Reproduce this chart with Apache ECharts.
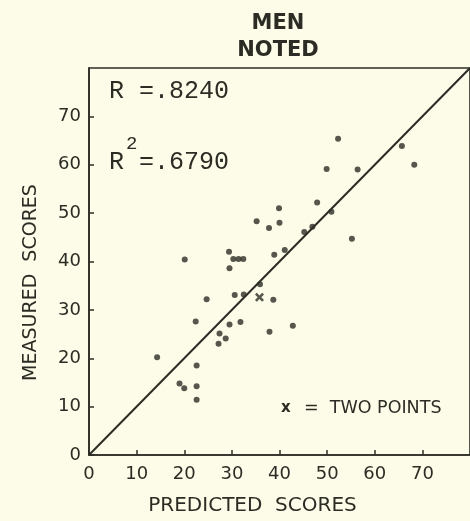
<!DOCTYPE html>
<html>
<head>
<meta charset="utf-8">
<script src="https://cdn.jsdelivr.net/npm/echarts@6/dist/echarts.min.js"></script>
<style>
html,body{margin:0;padding:0;background:#fcfce9;}
#c{width:470px;height:521px;}
</style>
</head>
<body>
<div id="c"></div>
<script>
// Data
const predicted = [14.3,20.1,19.0,20.0,22.4,22.6,22.6,22.6,24.7,27.2,27.4,28.7,29.5,29.4,29.5,30.3,31.4,32.4,30.6,32.5,31.8,35.9,35.2,38.7,37.9,37.8,40.0,39.9,38.9,41.1,42.8,45.2,46.9,47.9,50.9,55.2,49.9,52.3,56.4,65.7,68.3];
const measured  = [20.2,40.4,14.8,13.8,27.6,18.5,14.2,11.4,32.2,23.0,25.1,24.1,27.0,42.0,38.6,40.5,40.5,40.5,33.1,33.2,27.5,35.3,48.3,32.1,25.5,46.9,48.0,51.0,41.4,42.4,26.7,46.1,47.2,52.2,50.3,44.7,59.1,65.4,59.0,63.9,60.0];
const doubledPredicted = [35.8];
const doubledMeasured  = [32.6];
const lineX = [0, 80];
const lineY = [0, 80];
const axisMin = 0, axisMax = 80, axisStep = 10;
const titleLines = ['MEN', 'NOTED'];
const rText = 'R =.8240';
const r2Parts = ['R', '2', '=.6790'];
const noteMark = 'x';
const noteText = '=  TWO POINTS';

const ink = '#2d2c24';
const chart = echarts.init(document.getElementById('c'));
const pts = predicted.map((x, i) => [x, measured[i]]);
const dbl = doubledPredicted.map((x, i) => [x, doubledMeasured[i]]);
const linePts = lineX.map((x, i) => [x, lineY[i]]);
const sans = 'DejaVu Sans';
const mono = 'Liberation Mono';

chart.setOption({
  backgroundColor: '#fcfce9',
  animation: false,
  title: {
    text: titleLines.join('\n'),
    left: 273, top: 5, textAlign: 'center',
    textStyle: {fontFamily: sans, fontSize: 21, fontWeight: 'bold', color: ink, lineHeight: 27}
  },
  grid: {left: 89, top: 68, width: 383, height: 387, show: true, borderColor: ink, borderWidth: 1.6, backgroundColor: 'transparent'},
  xAxis: {
    type: 'value', min: axisMin, max: axisMax, interval: axisStep,
    axisLine: {lineStyle: {color: ink, width: 1.6}},
    axisTick: {inside: true, length: 5, lineStyle: {color: ink, width: 1.5}},
    axisLabel: {showMaxLabel: false, margin: 10, fontSize: 18, fontFamily: sans, color: ink},
    splitLine: {show: false},
    name: 'PREDICTED  SCORES', nameLocation: 'middle', nameGap: 41,
    nameTextStyle: {fontSize: 20, fontFamily: sans, color: ink, padding: [0, 54, 0, 0]}
  },
  yAxis: {
    type: 'value', min: axisMin, max: axisMax, interval: axisStep,
    axisLine: {lineStyle: {color: ink, width: 1.6}},
    axisTick: {inside: true, length: 5, lineStyle: {color: ink, width: 1.5}},
    axisLabel: {showMaxLabel: false, margin: 8, fontSize: 18, fontFamily: sans, color: ink},
    splitLine: {show: false},
    name: 'MEASURED  SCORES', nameLocation: 'middle', nameGap: 48,
    nameTextStyle: {fontSize: 19, fontFamily: sans, color: ink, padding: [0, 42, 0, 0]}
  },
  graphic: [
    {type: 'text', left: 109, top: 79, style: {text: rText, font: '25px "' + mono + '"', fill: ink}},
    {type: 'text', left: 109, top: 150, style: {text: r2Parts[0], font: '25px "' + mono + '"', fill: ink}},
    {type: 'text', left: 126, top: 134, style: {text: r2Parts[1], font: '19px "' + mono + '"', fill: ink}},
    {type: 'text', left: 139, top: 150, style: {text: r2Parts[2], font: '25px "' + mono + '"', fill: ink}},
    {type: 'text', left: 281, top: 401, style: {text: noteMark, font: 'bold 15px "' + sans + '"', fill: ink}},
    {type: 'text', left: 304, top: 399, style: {text: noteText, font: '17.5px "' + sans + '"', fill: ink}}
  ],
  series: [
    {type: 'line', data: linePts, symbol: 'none', silent: true, lineStyle: {color: ink, width: 2}},
    {type: 'scatter', data: pts, symbol: 'circle', symbolSize: 6, itemStyle: {color: ink}},
    {type: 'scatter', data: dbl, symbol: 'path://M0,2 L2,0 L5,3 L8,0 L10,2 L7,5 L10,8 L8,10 L5,7 L2,10 L0,8 L3,5 Z', symbolSize: 9, itemStyle: {color: ink}}
  ]
});
</script>
</body>
</html>
